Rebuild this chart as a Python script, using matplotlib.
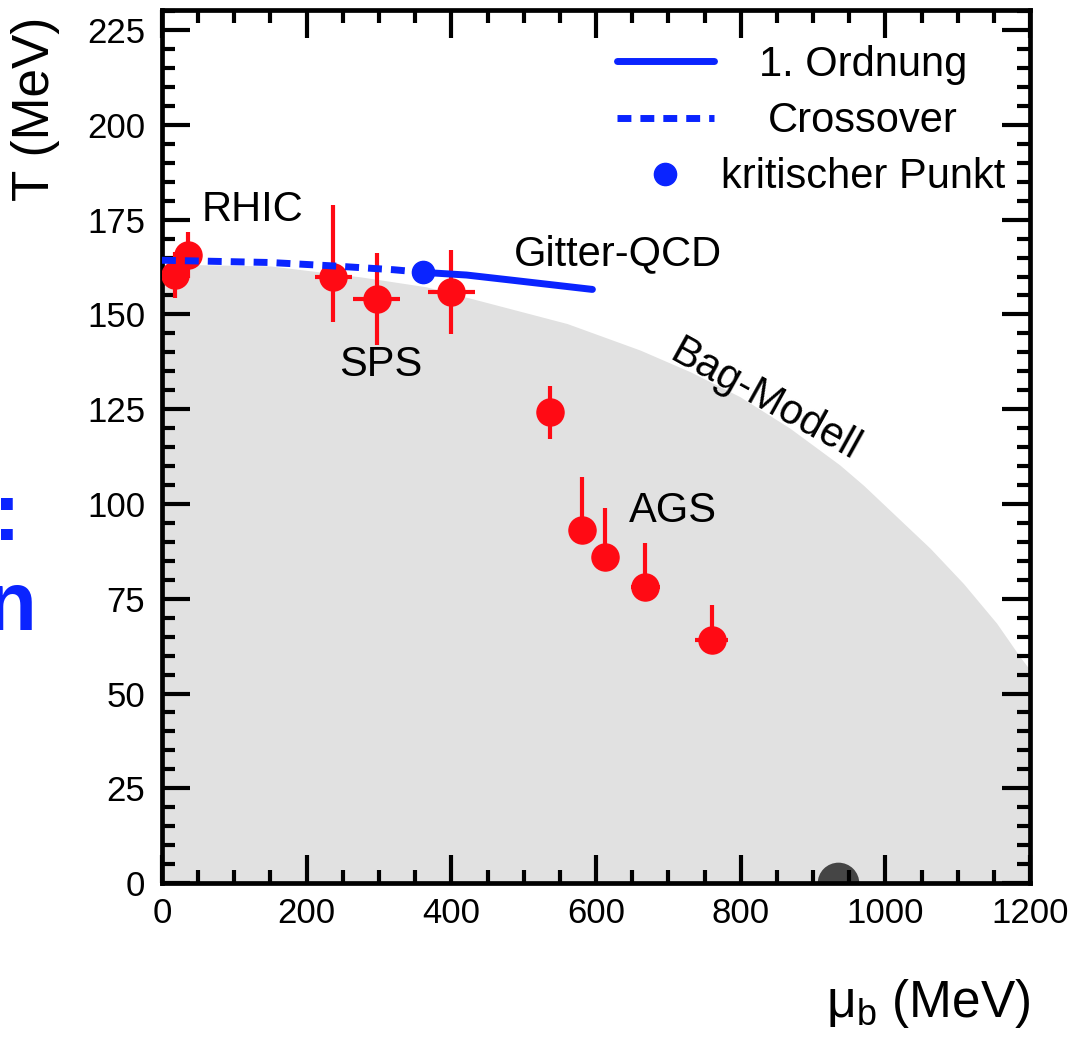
import matplotlib.pyplot as plt
from matplotlib.ticker import MultipleLocator

plt.rcParams['font.family'] = ['Liberation Sans', 'DejaVu Sans']

# chemical freeze-out points: mu_b, T and their errors (MeV)
mu_pts = [18, 36, 237, 297, 400, 536, 581, 612, 668, 760]
T_pts = [160.4, 165.7, 159.8, 154.1, 156.0, 124.3, 93.1, 86.1, 78.2, 64.1]
T_err_lo = [6, 6, 11.7, 12.2, 11.1, 7.1, 2, 2, 2, 2]
T_err_hi = [6, 6, 19.1, 12.0, 11.0, 6.7, 13.9, 12.9, 11.6, 9.3]
mu_err = [0, 0, 25, 32.5, 32.5, 0, 0, 0, 20, 23]

# lattice QCD: crossover, first order line, critical point
mu_cross = [0, 150, 237, 320, 361]
T_cross = [164.3, 163.7, 162.8, 161.8, 161.1]
mu_first = [361, 421, 481, 595]
T_first = [161.1, 160.4, 159.1, 156.6]
mu_crit = [361]
T_crit = [161.1]

# bag model phase boundary
mu_bag = [0, 150, 275, 365, 444, 560, 661, 730, 799, 868, 937, 970, 1016, 1062, 1108,
          1154, 1186, 1200]
T_bag = [163.3, 162.8, 159.9, 157.3, 153.4, 147.6, 140.6, 134.9, 128.3, 120.0, 110.3,
         104.9, 96.6, 88.3, 79.0, 68.5, 59.7, 56.2]

# nuclear matter ground state
mu_nuc = [935]
T_nuc = [0]

blue = '#0a24ff'
red = '#ff0a14'

fig = plt.figure(figsize=(10.77, 10.38), dpi=100)
ax = fig.add_axes([0.1504, 0.1493, 0.806, 0.841])

ax.fill_between(mu_bag, 0, T_bag, color='#e1e1e1', lw=0, zorder=0.5)
ax.scatter(mu_nuc, T_nuc, s=900, color='#454545', lw=0, zorder=1)

ax.errorbar(mu_pts, T_pts, yerr=[T_err_lo, T_err_hi], xerr=mu_err, fmt='o', ms=19.5,
            color=red, ecolor=red, elinewidth=3.0, capsize=0, zorder=3)

l_cross, = ax.plot(mu_cross, T_cross, color=blue, lw=5, dashes=(2, 1.3), zorder=4,
                   label='Crossover')
l_first, = ax.plot(mu_first, T_first, color=blue, lw=5, solid_capstyle='round', zorder=4,
                   label='1. Ordnung')
l_crit, = ax.plot(mu_crit, T_crit, 'o', ms=16, color=blue, zorder=5,
                  label='kritischer Punkt')

ax.set_xlim(0, 1200)
ax.set_ylim(0, 230.3)
ax.xaxis.set_major_locator(MultipleLocator(200))
ax.xaxis.set_minor_locator(MultipleLocator(50))
ax.yaxis.set_major_locator(MultipleLocator(25))
ax.yaxis.set_minor_locator(MultipleLocator(5))
ax.tick_params(which='both', direction='in', top=True, right=True, width=3, labelsize=25)
ax.tick_params(which='major', length=20)
ax.tick_params(which='minor', length=9.5)
ax.tick_params(axis='x', pad=10)
ax.tick_params(axis='y', pad=12)
for sp in ax.spines.values():
    sp.set_linewidth(3.4)

ax.set_xlabel('μ$_\\mathregular{b}$ (MeV)', fontsize=37, loc='right')
ax.xaxis.set_label_coords(1.0, -0.108)
ax.set_ylabel('T (MeV)', fontsize=37, loc='top')
ax.yaxis.set_label_coords(-0.1175, 0.992)

ax.text(55, 177.6, 'RHIC', fontsize=30, ha='left', va='center')
ax.text(302.6, 136.7, 'SPS', fontsize=30, ha='center', va='center')
ax.text(706, 98.2, 'AGS', fontsize=30, ha='center', va='center')
ax.text(629.7, 165.8, 'Gitter-QCD', fontsize=30, ha='center', va='center')
ax.text(833.7, 127.4, 'Bag-Modell', fontsize=30, rotation=-29, rotation_mode='anchor',
        ha='center', va='center')

leg = ax.legend(handles=[l_first, l_cross, l_crit], loc='upper left',
                bbox_to_anchor=(0.524, 0.960), frameon=False, fontsize=30,
                handlelength=2.33, handletextpad=0.17, borderpad=0, borderaxespad=0,
                labelspacing=0.39, numpoints=1)

# centre the legend labels on the widest one
fig.canvas.draw()
widths = [t.get_window_extent().width for t in leg.get_texts()]
for t, w in zip(leg.get_texts(), widths):
    t.set_x((max(widths) - w) / 2)

# slide text cut off at the left border
fig.text(21 / 1077, 1 - 540 / 1038, ':', color=blue, fontsize=60, fontweight='bold',
         ha='right', va='baseline')
fig.text(36 / 1077, 1 - 630 / 1038, 'n', color=blue, fontsize=60, fontweight='bold',
         ha='right', va='baseline')

fig.savefig('out.png', dpi=100, facecolor='white')
